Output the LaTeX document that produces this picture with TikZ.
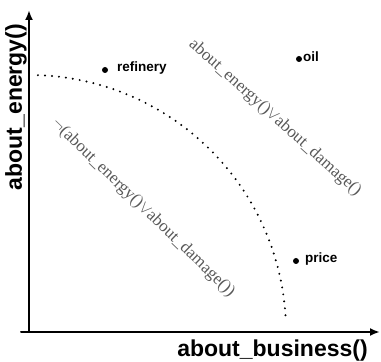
\documentclass[tikz,border=0pt]{standalone}
\usepackage{fontspec}
\setmainfont{Liberation Serif}
\newfontfamily\axisfont{Liberation Sans}
\usetikzlibrary{arrows.meta}

\begin{document}
\begin{tikzpicture}[line cap=round,line join=round,>={Latex[length=10pt,width=8pt]},x=1pt,y=1pt,
	axislbl/.style={font=\axisfont\bfseries\fontsize{23}{23}\selectfont,inner sep=0pt},
	ptlbl/.style={font=\axisfont\bfseries\fontsize{13.5}{14}\selectfont,anchor=west,inner sep=0pt},
	pt/.style={circle,fill=black,inner sep=0pt,minimum size=6pt},
	formula/.style={text=black!65,font=\fontsize{17}{17}\selectfont,inner sep=0pt}]
	\useasboundingbox (0,0) rectangle (381,362);
	% axes
	\coordinate (O) at (29,30);
	\coordinate (ytip) at (29,352);
	\coordinate (xstart) at (21,30);
	\coordinate (xtip) at (380,30);
	\draw [line width=2pt,->] (O)-- (ytip);
	\draw [line width=2pt,->] (xstart)-- (xtip);
	\node[axislbl,rotate=90] (ylbl) at (16,255) {about\_energy()};
	\node[axislbl,anchor=base] (xlbl) at (272.5,5) {about\_business()};
	% boundary
	\draw [line width=2.2pt,dash pattern=on 0pt off 7pt] ([shift={(88:257)}]O) arc[start angle=88,end angle=3,radius=257];
	\node[formula,rotate=-42] (inside) at (275,244) {about\_energy()$\vee$about\_damage()};
	\node[formula,rotate=-44] (outside) at (143,154) {$\neg$(about\_energy()$\vee$about\_damage())};
	% points
	\node[pt] (refinery) at (105,292) {};
	\node[ptlbl] (refinerylbl) at (117,294) {refinery};
	\node[pt] (oil) at (299,303) {};
	\node[ptlbl] (oillbl) at (303,305) {oil};
	\node[pt] (price) at (296,101) {};
	\node[ptlbl] (pricelbl) at (305,103) {price};
\end{tikzpicture}
\end{document}
